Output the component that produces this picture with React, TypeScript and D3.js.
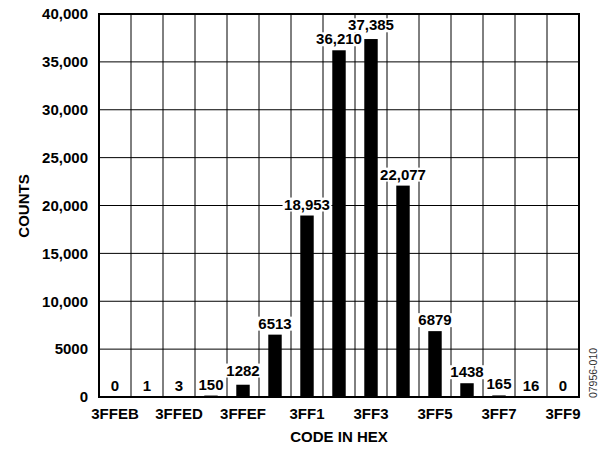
import React, { useEffect, useRef } from "react";
import * as d3 from "d3";

const codes = ["3FFEB","3FFEC","3FFED","3FFEE","3FFEF","3FFF0","3FFF1","3FFF2","3FFF3","3FFF4","3FFF5","3FFF6","3FFF7","3FFF8","3FFF9"];
const counts = [0, 1, 3, 150, 1282, 6513, 18953, 36210, 37385, 22077, 6879, 1438, 165, 16, 0];
const tickLabels = ["3FFEB","","3FFED","","3FFEF","","3FF1","","3FF3","","3FF5","","3FF7","","3FF9"];
const yTicks = [0, 5000, 10000, 15000, 20000, 25000, 30000, 35000, 40000];

const W = 605, H = 449;
const FONT = "'Liberation Sans', Arial, Helvetica, sans-serif";
const fmt = (v: number) => (v >= 10000 ? d3.format(",")(v) : String(v));

export default function App() {
  const ref = useRef<SVGSVGElement>(null);
  useEffect(() => {
    const svg = d3.select(ref.current);
    svg.selectAll("*").remove();
    const x = d3.scaleBand<string>().domain(codes).range([99, 579]).paddingInner(0.58).paddingOuter(0.29);
    const y = d3.scaleLinear().domain([0, 40000]).range([397, 14]);
    const step = x.step();
    const gap = step - x.bandwidth();

    svg.append("rect").attr("width", W).attr("height", H).attr("fill", "#fff");

    const grid = svg.append("g").attr("stroke", "#000").attr("stroke-width", 1);
    grid.selectAll("line.h").data(yTicks).join("line").attr("class", "h")
      .attr("x1", 99).attr("x2", 579).attr("y1", d => y(d)).attr("y2", d => y(d));
    grid.selectAll("line.v").data(codes.slice(1)).join("line").attr("class", "v")
      .attr("x1", d => (x(d) as number) - gap / 2)
      .attr("x2", d => (x(d) as number) - gap / 2)
      .attr("y1", 14).attr("y2", 397);

    svg.append("g").selectAll("rect").data(counts).join("rect")
      .attr("x", (d, i) => x(codes[i]) as number)
      .attr("width", x.bandwidth())
      .attr("y", d => y(d))
      .attr("height", d => y(0) - y(d))
      .attr("fill", "#000");

    const lab = svg.append("g").attr("font-family", FONT).attr("font-weight", "bold").attr("font-size", 15);
    type Box = { x: number; y: number; w: number; h: number };
    const boxes: Box[] = [];
    const items: { g: any; t: any; r: any; base: number }[] = [];
    counts.forEach((v, i) => {
      const cx = (x(codes[i]) as number) + x.bandwidth() / 2;
      const g = lab.append("g");
      const base = y(v) - 6;
      const t = g.append("text").attr("x", cx).attr("y", base).attr("text-anchor", "middle").text(fmt(v));
      const bb = (t.node() as SVGTextElement).getBBox();
      let b: Box = { x: bb.x - 1.5, y: bb.y + 2, w: bb.width + 3, h: bb.height - 3 };
      // avoid overlap with previous label: lift the label of the taller bar
      if (i > 0) {
        const p = boxes[i - 1];
        const overlapX = b.x < p.x + p.w && p.x < b.x + b.w;
        const overlapY = b.y < p.y + p.h && p.y < b.y + b.h;
        if (overlapX && overlapY && v > counts[i - 1]) {
          const dy = b.y + b.h - p.y;
          b = { ...b, y: b.y - dy };
          t.attr("y", base - dy);
        }
      }
      boxes.push(b);
      const r = g.insert("rect", "text").attr("x", b.x).attr("y", b.y).attr("width", b.w).attr("height", b.h).attr("fill", "#fff");
      items.push({ g, t, r, base });
    });

    // frame
    svg.append("rect").attr("x", 99).attr("y", 14).attr("width", 480).attr("height", 383)
      .attr("fill", "none").attr("stroke", "#000").attr("stroke-width", 2);

    const ax = svg.append("g").attr("font-family", FONT).attr("font-weight", "bold").attr("font-size", 15).attr("fill", "#000");
    ax.selectAll("text.y").data(yTicks).join("text").attr("class", "y")
      .attr("x", 88).attr("y", d => y(d) + 5.3).attr("text-anchor", "end").text(d => fmt(d));
    ax.selectAll("text.x").data(tickLabels).join("text").attr("class", "x")
      .attr("x", (d, i) => (x(codes[i]) as number) + x.bandwidth() / 2).attr("y", 419)
      .attr("text-anchor", "middle").text(d => d);
    ax.append("text").attr("x", 339).attr("y", 441.5).attr("text-anchor", "middle").text("CODE IN HEX");
    ax.append("text").attr("transform", "translate(29,206) rotate(-90)").attr("text-anchor", "middle").text("COUNTS");

    svg.append("text").attr("transform", "translate(596.5,373) rotate(-90)").attr("text-anchor", "middle")
      .attr("font-family", FONT).attr("font-size", 10.5).attr("fill", "#333").text("07956-010");
  }, []);
  return (
    <div style={{ position: "absolute", left: 0, top: 0 }}>
      <svg ref={ref} width={W} height={H} style={{ display: "block" }} />
    </div>
  );
}
